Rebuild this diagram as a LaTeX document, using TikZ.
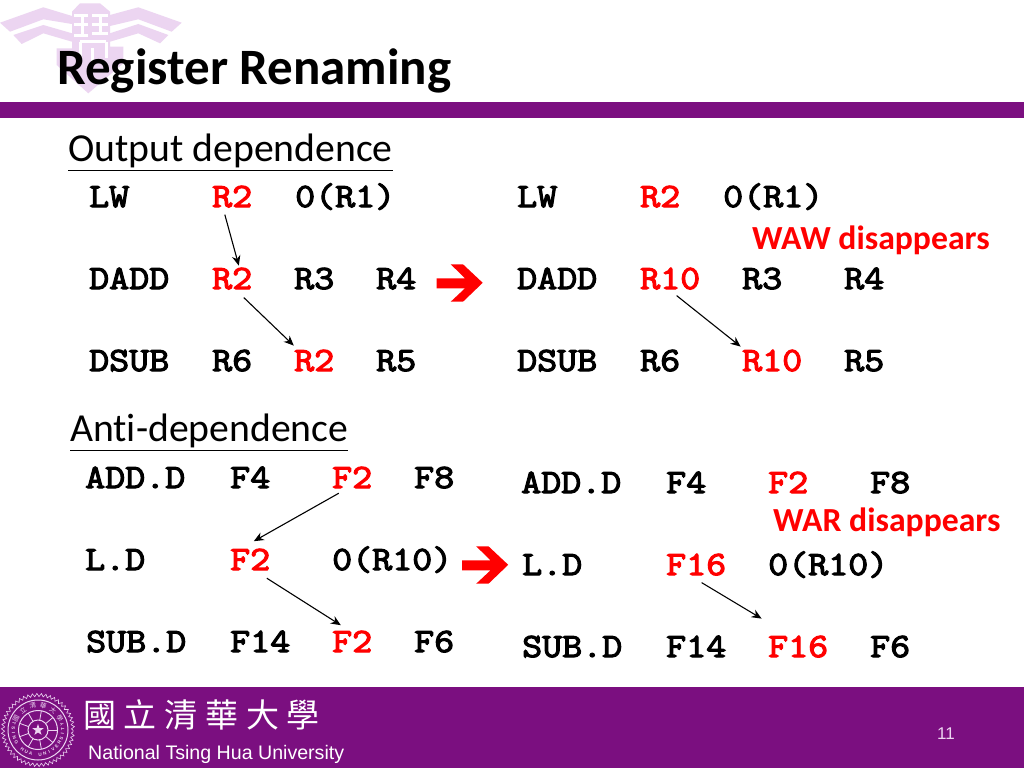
\documentclass[tikz,border=0pt]{standalone}
\usepackage{fontspec}
\setmainfont{Carlito}[Ligatures=NoCommon]
\newfontfamily\codefont{Latin Modern Mono}[FakeStretch=1.143,FakeBold=3.4]
\newfontfamily\latinsans{Liberation Sans}
\newfontfamily\cjkfont{Noto Sans CJK TC}
\usetikzlibrary{arrows.meta,decorations.pathmorphing}
\definecolor{nthu}{HTML}{7B0F80}
\definecolor{nthulight}{HTML}{ECD5F1}
\tikzset{
  x=1pt,y=-1pt,
  code/.style={inner sep=0pt,anchor=base west,font=\codefont\fontsize{34}{36}\selectfont,text=black},
  redcode/.style={code,text=red},
  heading/.style={inner sep=0pt,anchor=base west,font=\fontsize{39.7}{42}\selectfont},
  note/.style={inner sep=0pt,anchor=base west,font=\bfseries\fontsize{33.7}{36}\selectfont,text=red},
  dep/.style={draw=black,line width=1.1pt,-{Stealth[length=10pt,width=8.5pt]}},
  logo/.style={fill=nthulight,draw=none},
  sealline/.style={draw=nthulight,line width=1pt},
  sealtext/.style={inner sep=0pt,text=nthulight,font=\latinsans\bfseries\fontsize{4.6}{5}\selectfont},
  sealcjk/.style={inner sep=0pt,text=nthulight,font=\cjkfont\fontsize{6.5}{7}\selectfont},
}
\newcommand{\bigarrow}[2]{\fill[red,shift={(#1,#2)}] (46,18.5) -- (26.3,0) -- (14,0) -- (28.3,14) -- (0,14) -- (0,24) -- (28.3,24) -- (14,37.4) -- (26.3,37.4) -- cycle;}
\begin{document}
\begin{tikzpicture}
\useasboundingbox (0,0) rectangle (1024,768);
\fill[white] (0,0) rectangle (1024,768);
% logo
\fill[logo] (0,22.7) -- (43.3,7.3) -- (72,16) -- (72,24) -- (43.3,19.3) -- (10,31.7) -- cycle;
\fill[logo] (13.3,35) -- (43.3,25) -- (72,33.3) -- (72,41.7) -- (43.3,33.3) -- (21.7,44) -- cycle;
\fill[logo] (110,15) -- (138.3,7.3) -- (181.7,22.7) -- (171.7,31.7) -- (138.3,19.3) -- (110,26) -- cycle;
\fill[logo] (110,33.3) -- (138.3,24) -- (168.3,35) -- (160,43.3) -- (138.3,33.3) -- (110,41.7) -- cycle;
\fill[logo] (72,11.7) -- (80,3.3) -- (100,3.3) -- (110,11.7) -- (110,46.7) -- (123.3,46.7) -- (123.3,63.3) -- (88.3,93.3) -- (56.7,65) -- (56.7,48.3) -- (72,48.3) -- cycle;
\draw[white,line width=3pt] (74,16) -- (88,16) (74,25) -- (88,25) (82,14) -- (82,36) (74,36) -- (88,36)
  (92,16) -- (108,16) (92,25) -- (108,25) (92,34) -- (108,34) (100,14) -- (100,34)
  (80,42) -- (80,62) (80,42) -- (106,42) (106,42) -- (106,58) (92,48) -- (92,66);
% title and bars
\node[inner sep=0pt,anchor=base west,font=\bfseries\fontsize{51}{54}\selectfont] (title) at (57,84) {Register Renaming};
\fill[nthu] (0,102) rectangle (1024,118);
\fill[nthu] (0,687) rectangle (1024,768);
% headings
\node[heading] (h1) at (68,161) {Output dependence};
\draw[black,line width=.8pt] (h1.west |- 0,170) -- (393,170);
\node[heading] (h2) at (70,441) {Anti-dependence};
\draw[black,line width=.8pt] (h2.west |- 0,450) -- (348,450);
% top left
\node[code] (a1) at (89,207) {LW};
\node[redcode] (a2) at (212,207) {R2};
\node[code] (a3) at (295,207) {0(R1)};
\node[code] (b1) at (89,289) {DADD};
\node[redcode] (b2) at (212,289) {R2};
\node[code] (b3) at (294,289) {R3};
\node[code] (b4) at (376,289) {R4};
\node[code] (c1) at (89,371) {DSUB};
\node[code] (c2) at (212,371) {R6};
\node[redcode] (c3) at (294,371) {R2};
\node[code] (c4) at (376,371) {R5};
% top right
\node[code] (d1) at (517,207) {LW};
\node[redcode] (d2) at (640,207) {R2};
\node[code] (d3) at (723,207) {0(R1)};
\node[note] (waw) at (752,249) {WAW disappears};
\node[code] (e1) at (517,289) {DADD};
\node[redcode] (e2) at (640,289) {R10};
\node[code] (e3) at (742,289) {R3};
\node[code] (e4) at (844,289) {R4};
\node[code] (f1) at (517,371) {DSUB};
\node[code] (f2) at (640,371) {R6};
\node[redcode] (f3) at (742,371) {R10};
\node[code] (f4) at (844,371) {R5};
% bottom left
\node[code] (g1) at (85,488) {ADD.D};
\node[code] (g2) at (230,488) {F4};
\node[redcode] (g3) at (332,488) {F2};
\node[code] (g4) at (414,488) {F8};
\node[code] (k1) at (85,570) {L.D};
\node[redcode] (k2) at (230,570) {F2};
\node[code] (k3) at (332,570) {0(R10)};
\node[code] (m1) at (86,652) {SUB.D};
\node[code] (m2) at (230,652) {F14};
\node[redcode] (m3) at (332,652) {F2};
\node[code] (m4) at (414,652) {F6};
% bottom right
\node[code] (n1) at (521,493) {ADD.D};
\node[code] (n2) at (666,493) {F4};
\node[redcode] (n3) at (768,493) {F2};
\node[code] (n4) at (870,493) {F8};
\node[note] (war) at (773,531) {WAR disappears};
\node[code] (p1) at (522,575) {L.D};
\node[redcode] (p2) at (666,575) {F16};
\node[code] (p3) at (768,575) {0(R10)};
\node[code] (q1) at (522,657) {SUB.D};
\node[code] (q2) at (666,657) {F14};
\node[redcode] (q3) at (768,657) {F16};
\node[code] (q4) at (870,657) {F6};
% dependence arrows
\draw[dep] ([shift={(-7.4,7)}]a2.south) -- ([shift={(6.6,-24)}]b2.south);
\draw[dep] ([shift={(11.6,8)}]b2.south) -- ([shift={(-20.4,-26)}]c3.south);
\draw[dep] ([shift={(6.4,6)}]e2.south) -- ([shift={(-31.6,-25)}]f3.south);
\draw[dep] ([shift={(-13.4,5)}]g3.south) -- ([shift={(3.6,-29)}]k2.south);
\draw[dep] ([shift={(16.6,8)}]k2.south) -- ([shift={(-11.4,-27)}]m3.south);
\draw[dep] ([shift={(5.4,7)}]p2.south) -- ([shift={(-36.6,-39)}]q3.south);
\bigarrow{436.7}{264.3}
\bigarrow{462.2}{546.3}
% footer seal
\begin{scope}[shift={(38,730)}]
  \draw[sealline,line width=.6pt,decorate,decoration={zigzag,segment length=4.4pt,amplitude=1.6pt}] (0,0) circle[radius=35pt];
  \draw[sealline] (0,0) circle[radius=30pt];
  \draw[sealline] (0,0) circle[radius=19.5pt];
  \draw[sealline] (0,0) circle[radius=10pt];
  \foreach \a in {0,40,...,320}{\draw[sealline,line width=.8pt] (\a:10pt) -- (\a:19.5pt);}
  \fill[nthulight] (90:6pt) -- (126:2.4pt) -- (162:6pt) -- (198:2.4pt) -- (234:6pt) -- (270:2.4pt) -- (306:6pt) -- (342:2.4pt) -- (18:6pt) -- (54:2.4pt) -- cycle;
  \foreach \c [count=\i] in {T,S,I,N,G,{},H,U,A,{},U,N,I,V,E,R,S,I,T,Y}{
    \node[sealtext,rotate={165+(\i-1)*11+90}] (t\i) at ({165+(\i-1)*11}:24.7pt) {\c};
  }
  \foreach \c [count=\i] in {國,立,清,華,大,學}{
    \node[sealcjk,rotate={87.5-\i*25}] (s\i) at ({177.5-\i*25}:24.7pt) {\c};
  }
\end{scope}
\node[inner sep=0pt,anchor=base west,text=white,font=\cjkfont\fontsize{33}{36}\selectfont] (cn) at (83,727) {國\hspace{7pt}立\hspace{8pt}清\hspace{8pt}華\hspace{8pt}大\hspace{7pt}學};
\node[inner sep=0pt,anchor=base west,text=white,font=\latinsans\fontsize{19.6}{22}\selectfont] (en) at (88,759) {National Tsing Hua University};
\node[inner sep=0pt,anchor=base west,text=nthulight,font=\latinsans\fontsize{17}{18}\selectfont] (pg) at (937,739) {11};
\end{tikzpicture}
\end{document}
